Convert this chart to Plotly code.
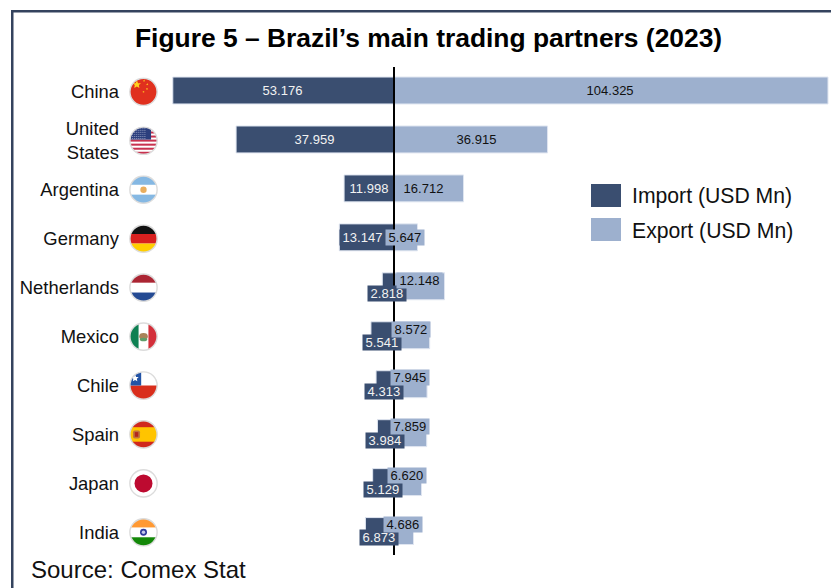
import base64
import plotly.graph_objects as go

W, H = 831, 588
countries = ["China", "United<br>States", "Argentina", "Germany", "Netherlands",
             "Mexico", "Chile", "Spain", "Japan", "India"]
imports = [53.176, 37.959, 11.998, 13.147, 2.818, 5.541, 4.313, 3.984, 5.129, 6.873]
exports = [104.325, 36.915, 16.712, 5.647, 12.148, 8.572, 7.945, 7.859, 6.620, 4.686]

DARK = "#3a4e70"
LIGHT = "#9db0ce"
FRAME = "#34435e"

# Layout of the value labels (pixel centres and vertical shifts from the bar centre)
imp_label_x = [282.5, 314.5, 368.5, 362.5, 387, 382, 384, 385, 383, 379]
imp_label_dy = [0, 0, 0, 0, 7, 7, 7.3, 7.5, 7.5, 6.5]
exp_label_x = [610, 476.5, 423.5, 405, 419, 411, 409.5, 409.5, 407, 403]
exp_label_dy = [0, 0, 0, 0, -6, -6, -6.7, -7, -6.5, -6.5]

PX_PER_UNIT = 4.16
ZERO_PX = 394
PLOT_LEFT = 120
ROW0 = 90.5
ROW_STEP = 48.95


def flag(body):
    svg = ('<svg xmlns="http://www.w3.org/2000/svg" viewBox="0 0 100 100">'
           '<defs><clipPath id="c"><circle cx="50" cy="50" r="47"/></clipPath></defs>'
           '<g clip-path="url(#c)"><rect width="100" height="100" fill="#fff"/>' + body + '</g>'
           '<circle cx="50" cy="50" r="47" fill="none" stroke="#dcdcdc" stroke-width="5"/></svg>')
    return "data:image/svg+xml;base64," + base64.b64encode(svg.encode()).decode()


def r(y, h, c, x=0, w=100):
    return f'<rect x="{x}" y="{y}" width="{w}" height="{h}" fill="{c}"/>'


def star(cx, cy, s, c):
    pts = "0,-10 2.9,-3.1 9.5,-3.1 4.7,1.2 5.9,8.1 0,4.5 -5.9,8.1 -4.7,1.2 -9.5,-3.1 -2.9,-3.1"
    return f'<polygon transform="translate({cx} {cy}) scale({s})" points="{pts}" fill="{c}"/>'


us_stripes = "".join(r(4 + i * 14, 7, "#c8324f") for i in range(7))
us_dots = "".join(f'<circle cx="{6 + 7 * i}" cy="{7 + 7 * j}" r="1.7" fill="#dfe4f2"/>'
                  for i in range(8) for j in range(6))
flags = [
    flag(r(0, 100, "#e0301e") + star(27, 25, 1.5, "#ffd21f") + star(52, 12, .4, "#ffd21f")
         + star(63, 24, .4, "#ffd21f") + star(62, 40, .4, "#ffd21f") + star(50, 50, .4, "#ffd21f")),
    flag(us_stripes + r(0, 46, "#2c3f7d", 0, 76) + us_dots),
    flag(r(0, 33, "#85b8e3") + r(67, 33, "#85b8e3") + '<circle cx="50" cy="50" r="11" fill="#e9ae5e"/>'),
    flag(r(0, 34, "#111111") + r(34, 33, "#d8201f") + r(67, 33, "#ffce00")),
    flag(r(0, 33, "#ab2533") + r(67, 33, "#244a93")),
    flag(r(0, 100, "#0e8052", 0, 33) + r(0, 100, "#d32f3a", 67, 33)
         + '<ellipse cx="50" cy="50" rx="15" ry="12" fill="#a9835a"/>'
         + '<ellipse cx="50" cy="60" rx="13" ry="6" fill="#5f9e6a"/>'),
    flag(r(50, 50, "#d92e1c") + r(0, 50, "#2354a6", 0, 42) + star(21, 25, 1.3, "#ffffff")),
    flag(r(0, 100, "#ffc400") + r(0, 25, "#d0281d") + r(75, 25, "#d0281d")
         + '<rect x="14" y="36" width="24" height="28" rx="6" fill="#c0733a"/>'
         + '<rect x="20" y="42" width="12" height="16" fill="#b3261c"/>'),
    flag('<circle cx="50" cy="50" r="31" fill="#bd0a30"/>'),
    flag(r(0, 33, "#ff9933") + r(67, 33, "#138808")
         + '<circle cx="50" cy="50" r="12" fill="#2f3b9c"/><circle cx="50" cy="50" r="6" fill="#c5c9ec"/>'),
]

fig = go.Figure()
fig.add_bar(y=countries, x=[-v for v in imports], name="Import (USD Mn)", orientation="h",
            marker=dict(color=DARK, line=dict(color="#dfe5f0", width=1)))
fig.add_bar(y=countries, x=exports, name="Export (USD Mn)", orientation="h",
            marker=dict(color=LIGHT, line=dict(color="#dfe5f0", width=1)))

ann = []
for i, c in enumerate(countries):
    ann.append(dict(text=f"\u2009{imports[i]:.3f}\u2009", xref="paper", yref="y", x=imp_label_x[i] / W, y=c,
                    yshift=-imp_label_dy[i], showarrow=False, xanchor="center", yanchor="middle",
                    bgcolor=DARK, borderpad=0, font=dict(color="#f2f2f2", size=13)))
    ann.append(dict(text=f"\u2009{exports[i]:.3f}\u2009", xref="paper", yref="y", x=exp_label_x[i] / W, y=c,
                    yshift=-exp_label_dy[i], showarrow=False, xanchor="center", yanchor="middle",
                    bgcolor=LIGHT, borderpad=0, font=dict(color="#111111", size=13)))


def px(x, y, **kw):
    return dict(xref="paper", yref="paper", x=x / W, y=1 - y / H, showarrow=False, **kw)


ann.append(px(428, 38, text="<b>Figure 5 – Brazil’s main trading partners (2023)</b>",
              xanchor="center", yanchor="middle", font=dict(size=26.4, color="#000000")))
ann.append(px(630, 195.5, text="Import (USD Mn)", xanchor="left", yanchor="middle",
              font=dict(size=21.2, color="#111111")))
ann.append(px(630, 231, text="Export (USD Mn)", xanchor="left", yanchor="middle",
              font=dict(size=21.2, color="#111111")))
ann.append(px(29, 569, text="Source: Comex Stat", xanchor="left", yanchor="middle",
              font=dict(size=24, color="#111111")))


def rect(x0, y0, x1, y1, color):
    return dict(type="rect", xref="paper", yref="paper", x0=x0 / W, x1=x1 / W,
                y0=1 - y0 / H, y1=1 - y1 / H, fillcolor=color, line_width=0, layer="above")


shapes = [
    rect(11, 10, 13.5, H, FRAME),
    rect(11, 10, W, 12.5, FRAME),
    rect(591, 184, 621, 207, DARK),
    rect(591, 218, 621, 241, LIGHT),
    dict(type="line", xref="x", yref="paper", x0=0, x1=0, y0=1 - 67 / H, y1=1 - 555 / H,
         line=dict(color="#000000", width=2), layer="above"),
]

images = [dict(source=f, xref="paper", yref="paper", x=143.5 / W, y=1 - (ROW0 + 1.3 + i * ROW_STEP) / H,
               sizex=29 / W, sizey=29 / H, xanchor="center", yanchor="middle", layer="above",
               sizing="contain")
          for i, f in enumerate(flags)]

fig.update_layout(
    width=W, height=H, margin=dict(l=0, r=0, t=0, b=0, pad=0, autoexpand=False),
    paper_bgcolor="#ffffff", plot_bgcolor="#ffffff", showlegend=False,
    barmode="relative", bargap=0.45,
    font=dict(family="Liberation Sans, Arial, sans-serif", color="#111111"),
    xaxis=dict(domain=[PLOT_LEFT / W, 1], range=[(PLOT_LEFT - ZERO_PX) / PX_PER_UNIT, (W - ZERO_PX) / PX_PER_UNIT],
               visible=False, fixedrange=True),
    yaxis=dict(type="category", categoryorder="array", categoryarray=countries, domain=[0, 1],
               range=[(H - ROW0) / ROW_STEP, -ROW0 / ROW_STEP], showgrid=False, zeroline=False,
               showline=False, ticks="", tickfont=dict(size=18.4, color="#111111"), automargin=False,
               ticklabelshift=-1, fixedrange=True),
    annotations=ann, shapes=shapes, images=images,
)
fig.write_html("out.html", config=dict(displayModeBar=False),
               post_script="document.body.style.margin='0';document.body.style.overflow='hidden';")
